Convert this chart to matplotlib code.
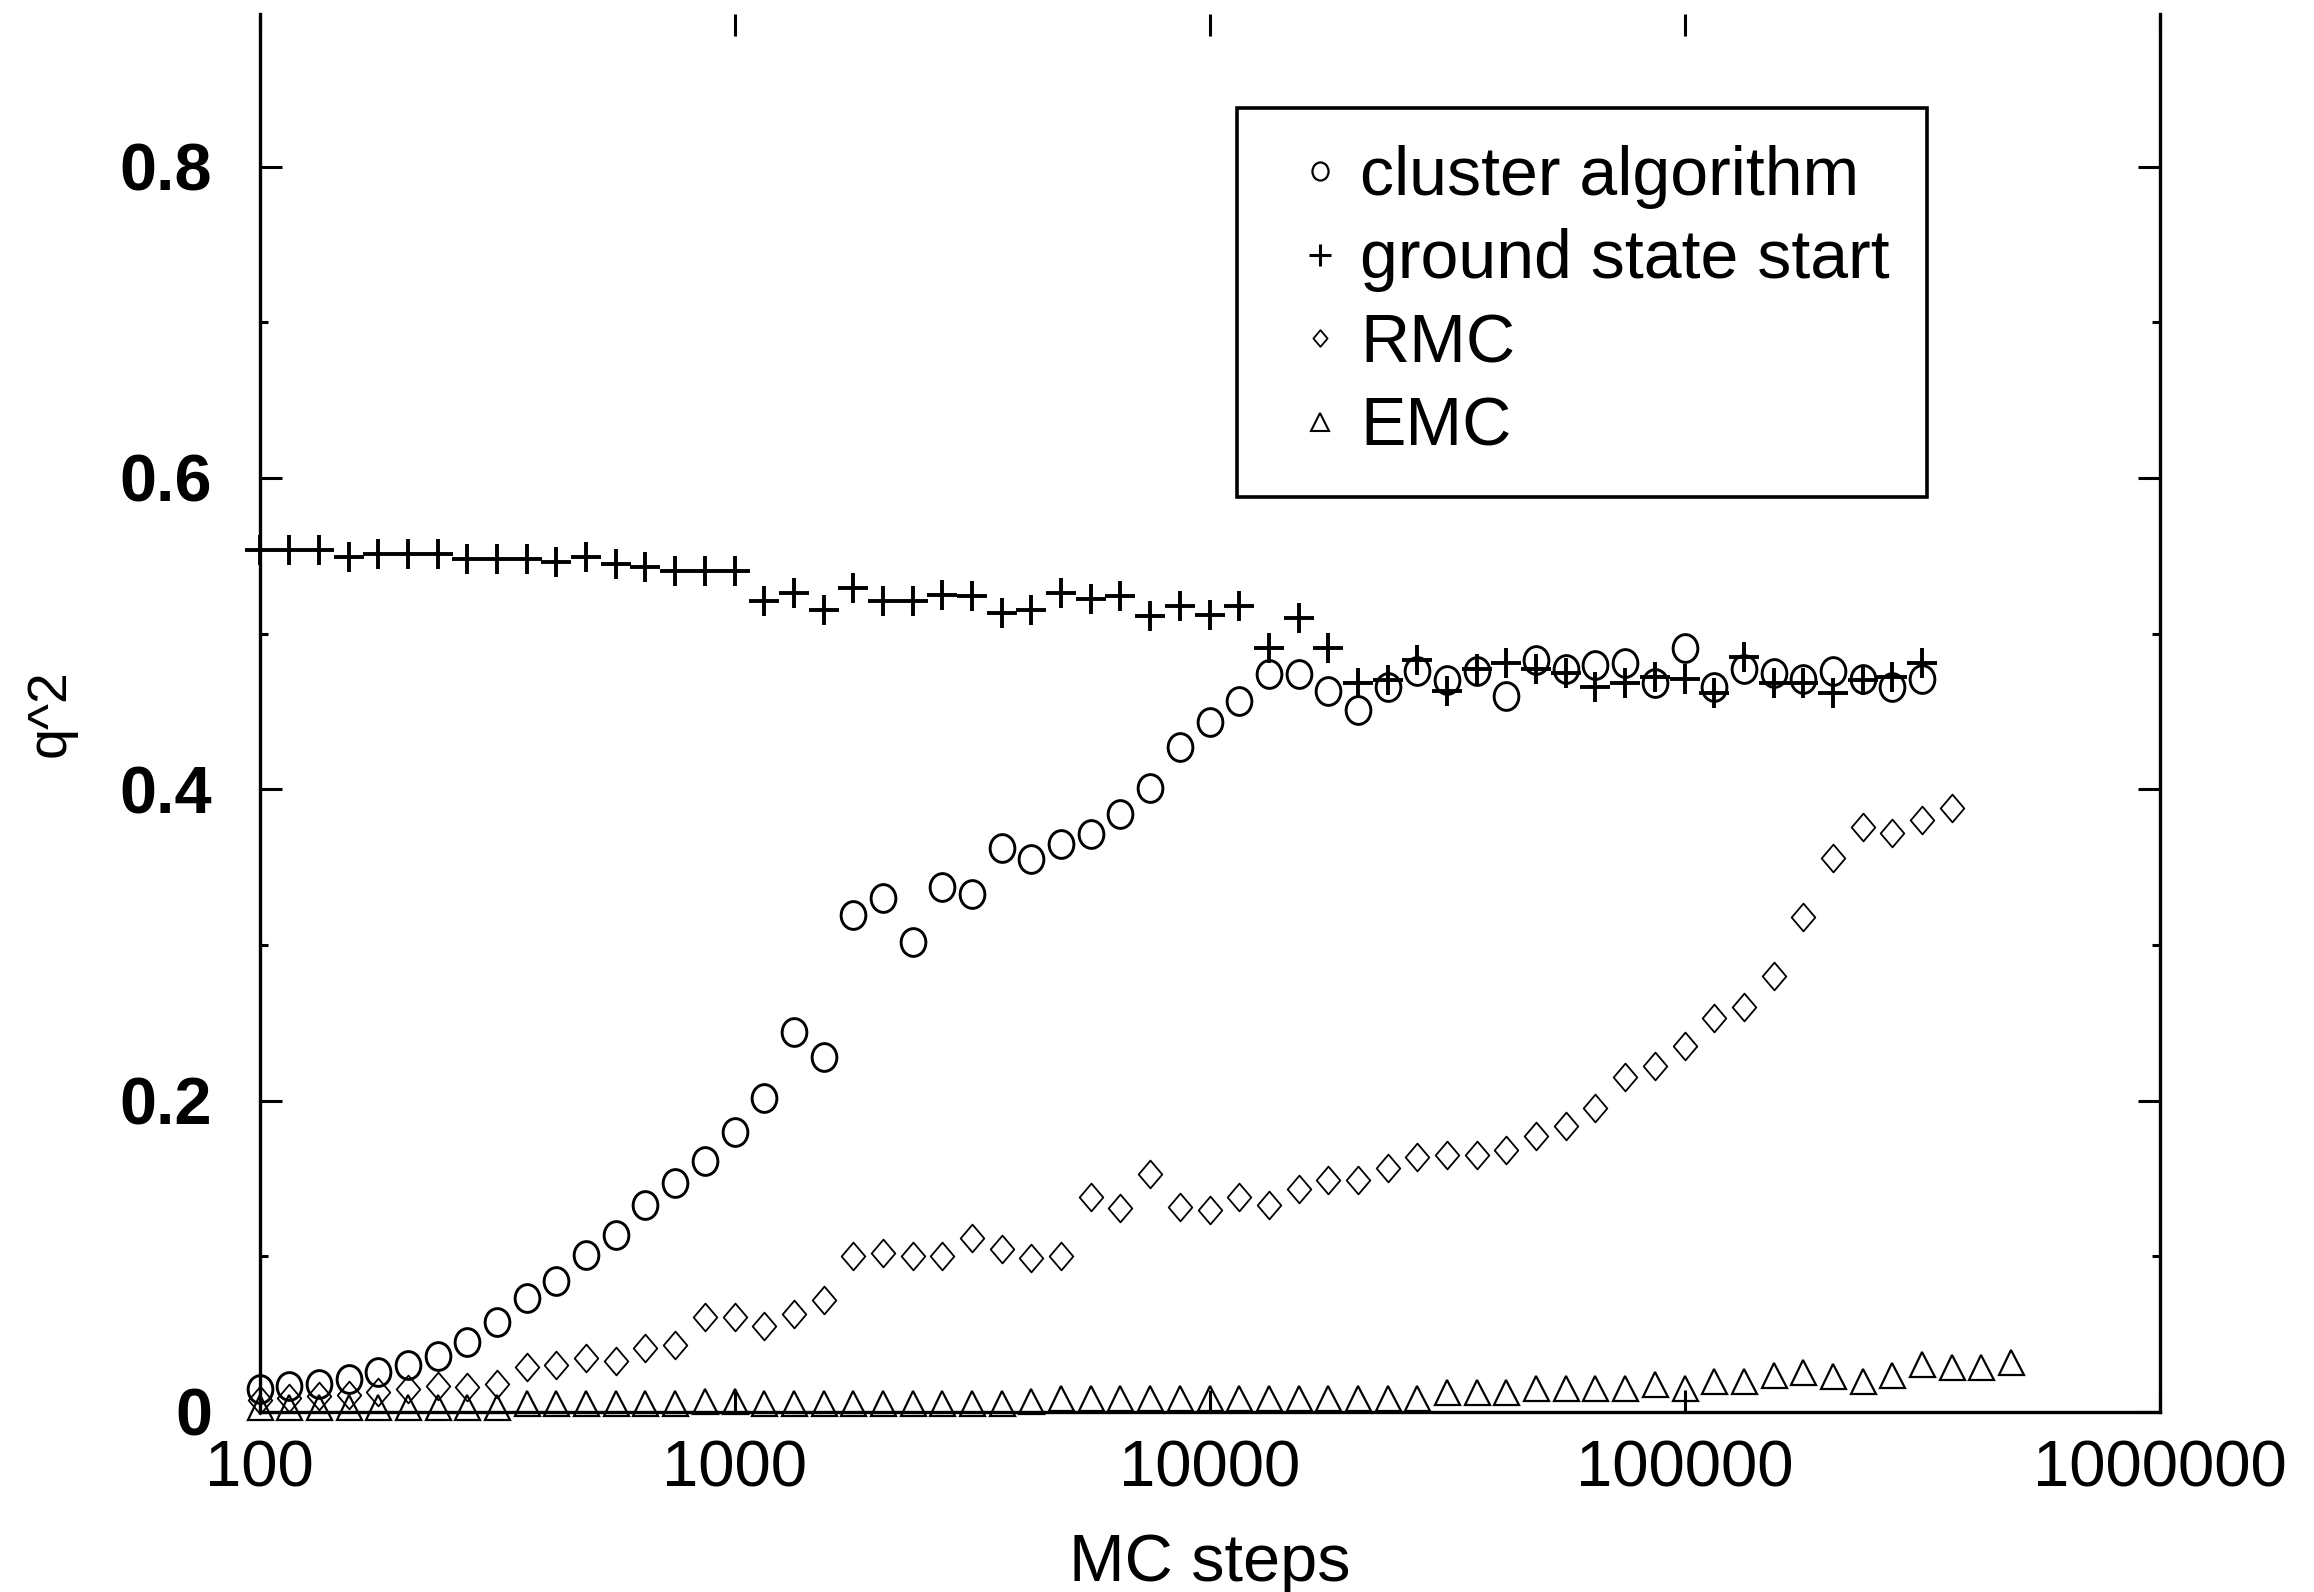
import matplotlib
matplotlib.use("Agg")
import matplotlib.pyplot as plt
from matplotlib.path import Path
from matplotlib.lines import Line2D
from matplotlib.ticker import NullLocator

plt.rcParams['font.family'] = ['Liberation Sans', 'DejaVu Sans']

# MC steps (x) -- same grid for every run, 16 points per decade
steps = [100, 115.5, 133.4, 154.0, 177.8, 205.4, 237.1, 273.8, 316.2, 365.2,
         421.7, 487.0, 562.3, 649.4, 749.9, 866.0, 1000, 1155, 1334, 1540,
         1778, 2054, 2371, 2738, 3162, 3652, 4217, 4870, 5623, 6494,
         7499, 8660, 10000, 11548, 13335, 15399, 17783, 20535, 23714, 27384,
         31623, 36517, 42170, 48697, 56234, 64938, 74989, 86596, 100000, 115478,
         133352, 153993, 177828, 205353, 237137, 273842, 316228, 365174, 421697, 486968]

cluster = [0.015, 0.017, 0.018, 0.021, 0.026, 0.030, 0.036, 0.045, 0.058, 0.073,
           0.084, 0.101, 0.114, 0.133, 0.147, 0.161, 0.180, 0.202, 0.244, 0.228,
           0.319, 0.330, 0.302, 0.337, 0.333, 0.362, 0.355, 0.365, 0.371, 0.384,
           0.401, 0.427, 0.443, 0.457, 0.474, 0.474, 0.463, 0.451, 0.466, 0.476,
           0.470, 0.476, 0.460, 0.483, 0.477, 0.480, 0.481, 0.468, 0.491, 0.466,
           0.477, 0.475, 0.471, 0.476, 0.471, 0.466, 0.471]

ground = [0.554, 0.554, 0.554, 0.549, 0.551, 0.551, 0.551, 0.548, 0.548, 0.548,
          0.546, 0.549, 0.545, 0.543, 0.540, 0.540, 0.540, 0.521, 0.526, 0.515,
          0.529, 0.521, 0.521, 0.525, 0.524, 0.513, 0.515, 0.526, 0.522, 0.524,
          0.511, 0.518, 0.512, 0.518, 0.491, 0.510, 0.491, 0.468, 0.470, 0.483,
          0.463, 0.477, 0.481, 0.477, 0.475, 0.466, 0.468, 0.472, 0.471, 0.462,
          0.485, 0.468, 0.468, 0.462, 0.470, 0.472, 0.481]

rmc = [0.008, 0.009, 0.010, 0.011, 0.013, 0.015, 0.017, 0.016, 0.018, 0.029,
       0.030, 0.035, 0.033, 0.041, 0.043, 0.061, 0.061, 0.055, 0.063, 0.072,
       0.100, 0.102, 0.100, 0.100, 0.112, 0.105, 0.099, 0.100, 0.138, 0.131,
       0.153, 0.132, 0.130, 0.138, 0.133, 0.143, 0.149, 0.149, 0.157, 0.164,
       0.165, 0.165, 0.168, 0.177, 0.184, 0.195, 0.215, 0.222, 0.235, 0.253,
       0.260, 0.280, 0.318, 0.356, 0.376, 0.372, 0.380, 0.388]

emc = [0.003, 0.003, 0.003, 0.003, 0.003, 0.003, 0.003, 0.003, 0.003, 0.006,
       0.006, 0.006, 0.006, 0.006, 0.006, 0.007, 0.007, 0.006, 0.006, 0.006,
       0.006, 0.006, 0.006, 0.006, 0.006, 0.006, 0.007, 0.009, 0.009, 0.009,
       0.009, 0.009, 0.009, 0.009, 0.009, 0.009, 0.009, 0.009, 0.009, 0.009,
       0.013, 0.013, 0.013, 0.0155, 0.0155, 0.0155, 0.0155, 0.0177, 0.0155, 0.020,
       0.020, 0.0236, 0.026, 0.023, 0.020, 0.0236, 0.031, 0.029, 0.029, 0.032]

labels = ['cluster algorithm', 'ground state start', 'RMC', 'EMC']

# gnuplot-like hollow point shapes
circ = Path.unit_circle()
ellipse = Path(circ.vertices * [0.89, 1.0], circ.codes)
diamond = Path([(0, 1), (0.85, 0), (0, -1), (-0.85, 0), (0, 1)], closed=True)

fig = plt.figure(figsize=(23.14, 15.92), dpi=100)
ax = fig.add_axes([259.5 / 2314, 180 / 1592, 1900 / 2314, 1398 / 1592])

style = dict(ls='none', mfc='none', mec='black', clip_on=False)
ax.plot(steps[:len(cluster)], cluster, marker=ellipse, ms=20, mew=2.1, **style)
ax.plot(steps[:len(ground)], ground, marker='+', ms=21, mew=2.8, **style)
ax.plot(steps[:len(rmc)], rmc, marker=diamond, ms=20, mew=1.3, **style)
ax.plot(steps[:len(emc)], emc, marker='^', ms=18, mew=1.6, **style)

ax.set_xscale('log')
ax.set_xlim(100, 1e6)
ax.set_ylim(0, 0.898)

ax.set_xticks([100, 1000, 10000, 100000, 1000000])
ax.set_xticklabels(['100', '1000', '10000', '100000', '1000000'])
ax.xaxis.set_minor_locator(NullLocator())
ax.set_yticks([0, 0.2, 0.4, 0.6, 0.8])
ax.set_yticklabels(['0', '0.2', '0.4', '0.6', '0.8'])
ax.set_yticks([0.1, 0.3, 0.5, 0.7], minor=True)

ax.tick_params(which='both', direction='in', top=True, right=True,
               width=2.2, color='black')
ax.tick_params(which='major', length=16)
ax.tick_params(which='minor', length=6)
ax.tick_params(axis='x', labelsize=47, pad=20)
ax.tick_params(axis='y', labelsize=48, pad=34)
for lab in ax.get_yticklabels():
    lab.set_fontweight('bold')

ax.spines['top'].set_visible(False)
for s in ['left', 'right', 'bottom']:
    ax.spines[s].set_linewidth(2.4)

ax.set_xlabel('MC steps', fontsize=48, labelpad=24)
ax.set_ylabel('q^2', fontsize=40, labelpad=31)

handles = [
    Line2D([], [], ls='none', marker=ellipse, ms=13, mfc='none', mec='black', mew=1.6),
    Line2D([], [], ls='none', marker='+', ms=16, mec='black', mew=2.2),
    Line2D([], [], ls='none', marker=diamond, ms=12, mfc='none', mec='black', mew=1.3),
    Line2D([], [], ls='none', marker='^', ms=13, mfc='none', mec='black', mew=1.5),
]
leg = ax.legend(handles, labels, loc='upper left',
                bbox_to_anchor=(1237 / 2314, 1 - 108 / 1592),
                bbox_transform=fig.transFigure, fontsize=49,
                frameon=True, fancybox=False, edgecolor='black',
                borderpad=0.54, labelspacing=0.29, handlelength=1.35,
                handletextpad=-0.08, borderaxespad=0)
leg.get_frame().set_linewidth(2.6)
leg.get_frame().set_alpha(None)

fig.savefig('out.png', dpi=100, facecolor='white')
